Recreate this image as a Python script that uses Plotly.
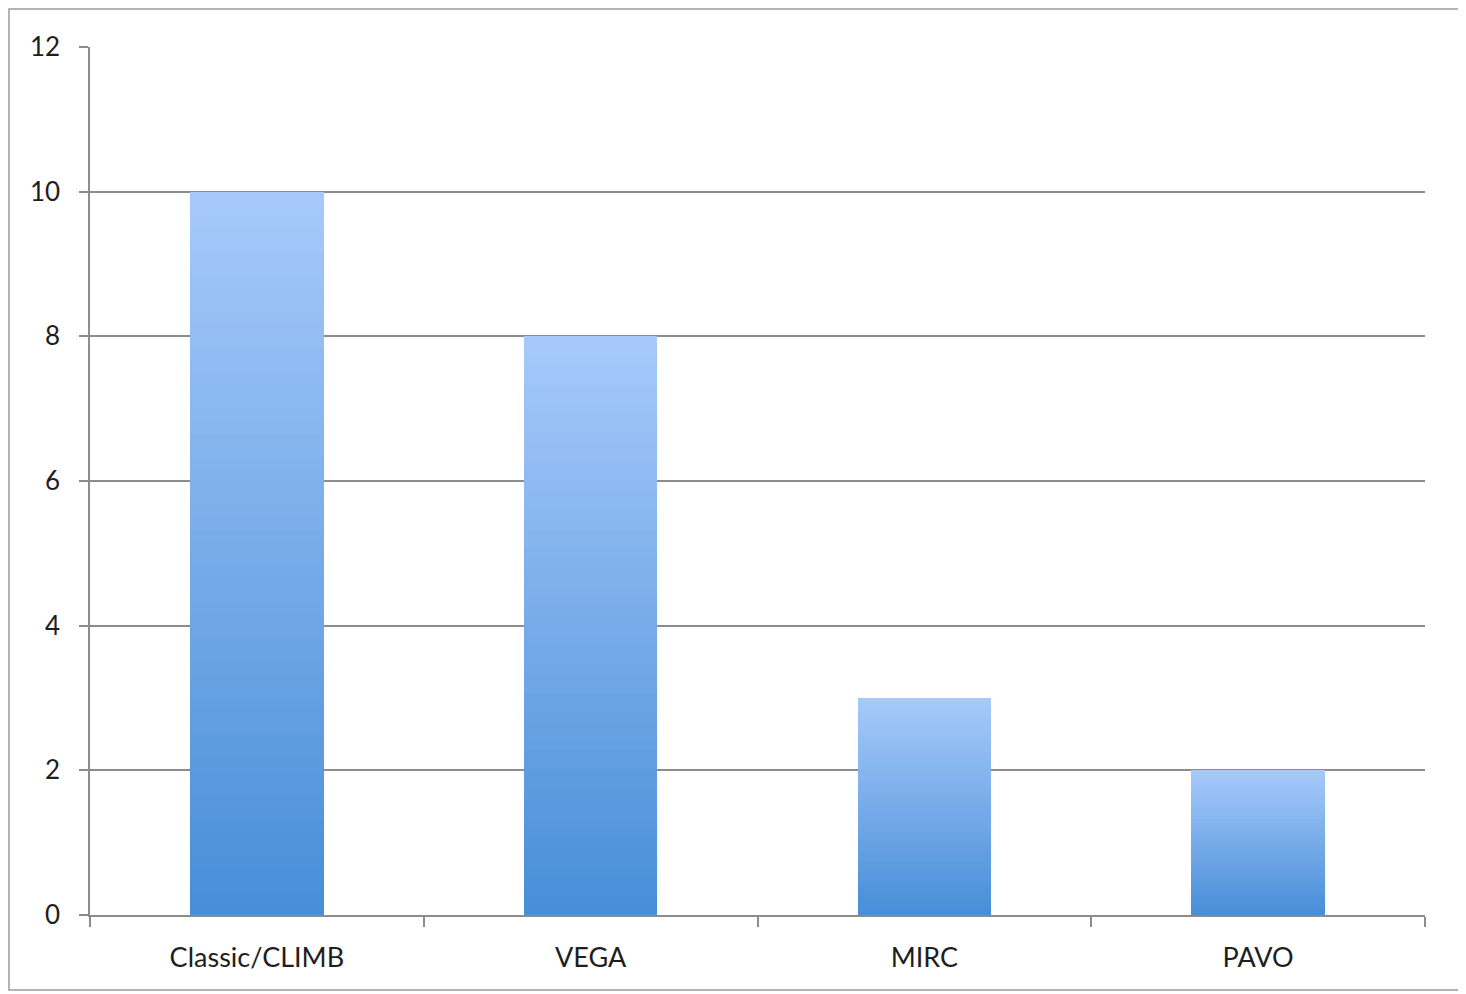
import plotly.graph_objects as go

categories = ["Classic/CLIMB", "VEGA", "MIRC", "PAVO"]
values = [10, 8, 3, 2]
y_ticks = [0, 2, 4, 6, 8, 10, 12]

top_rgb = (166, 201, 250)
bot_rgb = (72, 142, 216)
N = 60

fig = go.Figure()
for i in range(N):
    t = i / (N - 1)
    c = tuple(round(bot_rgb[k] + (top_rgb[k] - bot_rgb[k]) * t) for k in range(3))
    fig.add_trace(go.Bar(
        x=categories,
        y=[v / N for v in values],
        marker=dict(color=f"rgb{c}", line=dict(width=0)),
        showlegend=False,
        hoverinfo="skip",
    ))

font_family = "Lato, 'Open Sans', sans-serif"
grid_col = "#8c8c8c"

fig.update_layout(
    barmode="stack",
    bargap=0.6,
    width=1456,
    height=984,
    margin=dict(l=82, r=39, t=39, b=77),
    paper_bgcolor="white",
    plot_bgcolor="white",
    font=dict(family=font_family, size=26, color="#1e1e1e"),
    xaxis=dict(
        type="category",
        range=[-0.5, 3.5],
        tickson="boundaries",
        ticks="outside",
        ticklen=10,
        tickcolor=grid_col,
        tickwidth=1.5,
        showline=True,
        linecolor=grid_col,
        linewidth=1.5,
        showgrid=False,
        ticklabelstandoff=18,
        tickfont=dict(size=27),
    ),
    yaxis=dict(
        range=[0, 12],
        tickvals=y_ticks,
        ticks="outside",
        ticklen=9,
        tickcolor=grid_col,
        tickwidth=1.5,
        showline=True,
        linecolor=grid_col,
        linewidth=1.5,
        showgrid=True,
        gridcolor=grid_col,
        gridwidth=1.5,
        zeroline=False,
        ticklabelstandoff=14,
        tickfont=dict(size=26),
    ),
    shapes=[dict(
        type="rect", xref="paper", yref="paper",
        x0=(9 - 90) / 1335, x1=(1461 - 90) / 1335,
        y0=(915 - 990) / 868, y1=(915 - 9) / 868,
        line=dict(color="#9a9a9a", width=1.5), fillcolor="rgba(0,0,0,0)",
        layer="below",
    )],
)

fig.write_html("out.html")
